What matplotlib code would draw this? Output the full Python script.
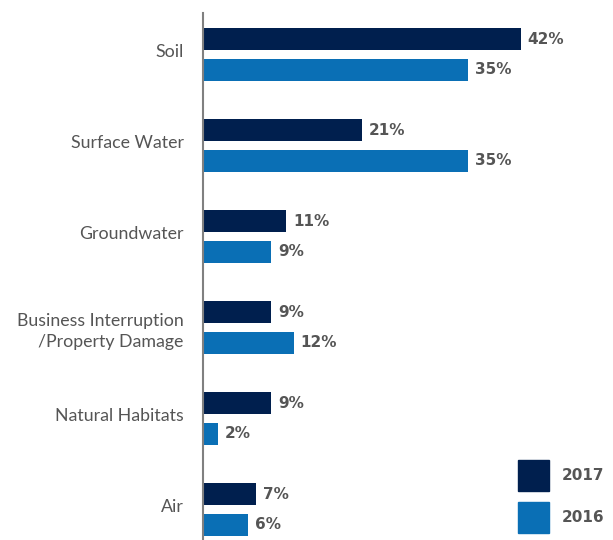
import numpy as np
import matplotlib.pyplot as plt
import matplotlib.transforms as mtransforms
from matplotlib.patches import Rectangle

# Data
categories = ['Soil', 'Surface Water', 'Groundwater',
              'Business Interruption\n/Property Damage', 'Natural Habitats', 'Air']
vals_2017 = [42, 21, 11, 9, 9, 7]
vals_2016 = [35, 35, 9, 12, 2, 6]

c2017 = '#001f4e'
c2016 = '#0a6fb5'
grey = '#555555'

plt.rcParams['font.family'] = ['Lato', 'DejaVu Sans']

fig = plt.figure(figsize=(6.13, 5.4), dpi=100)
ax = fig.add_axes([203 / 613, 0, 1 - 203 / 613, 1 - 13 / 540])

y = np.arange(len(categories))
h = 0.242
off = 0.17
ax.barh(y - off, vals_2017, height=h, color=c2017)
ax.barh(y + off, vals_2016, height=h, color=c2016)

vfont = dict(fontsize=11, fontweight='bold', color=grey, family='DejaVu Sans')
for yi, v in zip(y, vals_2017):
    ax.text(v + 0.9, yi - off, f'{v}%', va='center', ha='left', **vfont)
for yi, v in zip(y, vals_2016):
    ax.text(v + 0.9, yi + off, f'{v}%', va='center', ha='left', **vfont)

ax.set_xlim(0, 410 / 7.57)
ax.set_ylim(5 + 0.335, -0.456)
ax.set_yticks(y)
ax.set_yticklabels(categories, fontsize=12.8, color=grey, ha='right',
                   multialignment='right', linespacing=1.4)
ax.tick_params(axis='y', length=0, pad=14)
# single-line labels sit a few pixels above the group centre
shift = mtransforms.ScaledTranslation(0, 4 / 100, fig.dpi_scale_trans)
for lab in ax.get_yticklabels():
    if '\n' not in lab.get_text():
        lab.set_transform(lab.get_transform() + shift)
ax.set_xticks([])
for s in ['top', 'right', 'bottom']:
    ax.spines[s].set_visible(False)
ax.spines['left'].set_color('#808080')
ax.spines['left'].set_linewidth(1.5)

# Legend drawn in figure pixels
W, H = 613, 540
for (yt, col, lab) in [(460, c2017, '2017'), (502, c2016, '2016')]:
    fig.add_artist(Rectangle((518 / W, 1 - (yt + 31) / H), 31 / W, 31 / H,
                             transform=fig.transFigure, color=col))
    fig.text(562 / W, 1 - (yt + 15.5) / H, lab, va='center', ha='left', **vfont)

fig.savefig('out.png', dpi=100)
